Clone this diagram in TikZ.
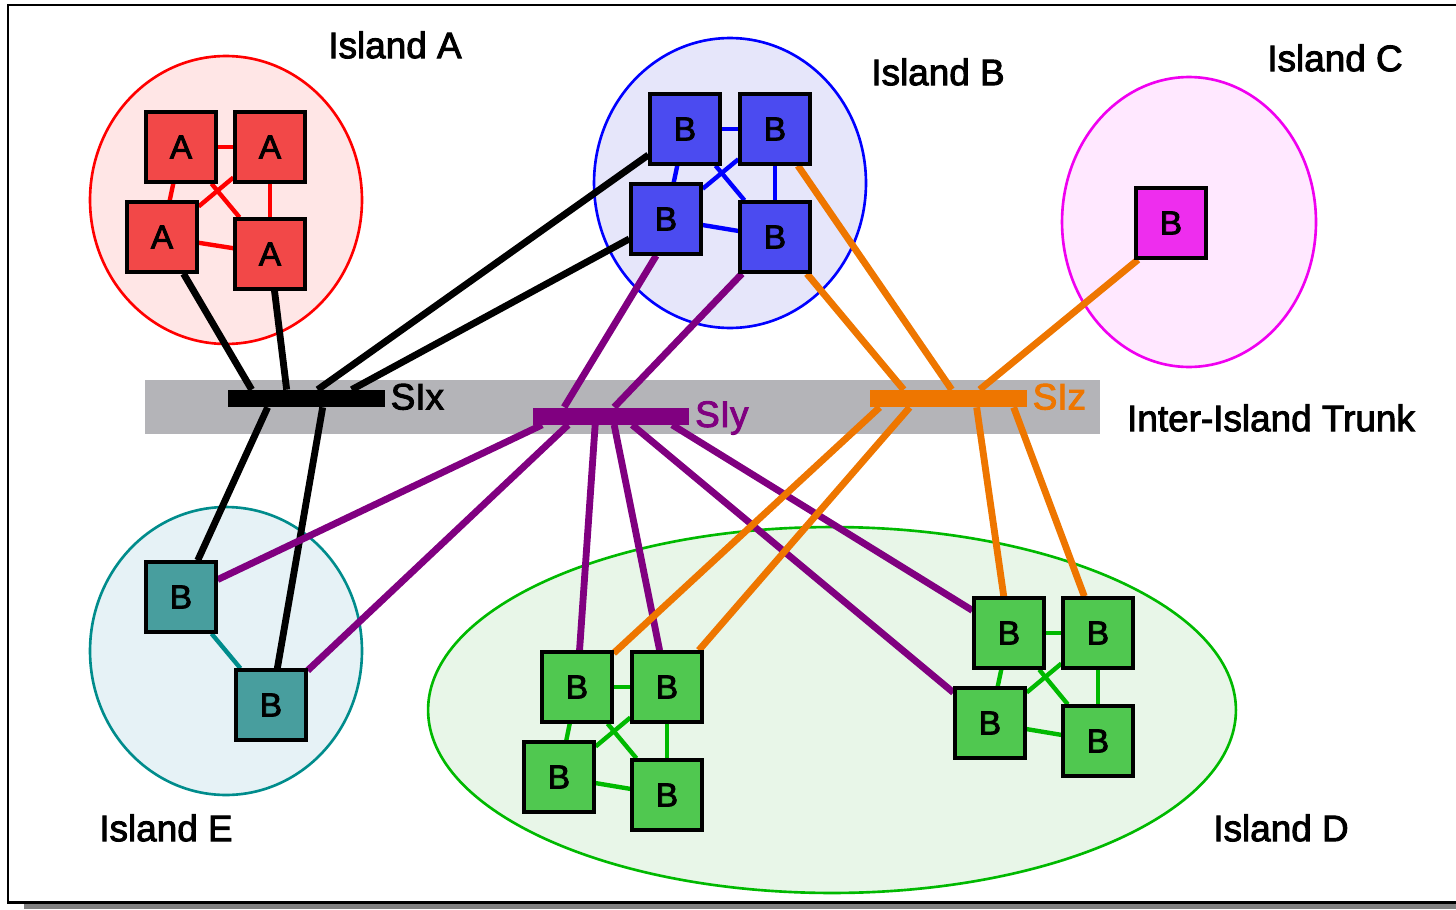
\documentclass[tikz,border=0pt]{standalone}
\usepackage{fontspec}
\setmainfont{Liberation Sans}[FakeBold=2.5]
\usetikzlibrary{calc,backgrounds}

\definecolor{redbox}{RGB}{242,72,72}
\definecolor{bluebox}{RGB}{75,75,240}
\definecolor{magbox}{RGB}{238,45,238}
\definecolor{tealbox}{RGB}{72,158,158}
\definecolor{greenbox}{RGB}{80,200,80}
\definecolor{islA}{RGB}{255,230,230}
\definecolor{islB}{RGB}{230,230,250}
\definecolor{islC}{RGB}{255,232,255}
\definecolor{islD}{RGB}{232,246,232}
\definecolor{islE}{RGB}{230,242,246}
\definecolor{magline}{RGB}{240,0,240}
\definecolor{tealline}{RGB}{0,140,140}
\definecolor{greenline}{RGB}{0,185,0}
\definecolor{purp}{RGB}{128,0,128}
\definecolor{orng}{RGB}{238,118,0}
\definecolor{trunkgray}{RGB}{180,180,184}

\begin{document}
\begin{tikzpicture}[x=0.02cm, y=-0.02cm,
  sw/.style={draw, line width=1.9pt, minimum size=1.4cm, inner sep=0pt, font=\fontsize{19}{22}\selectfont},
  bar/.style={minimum width=3.14cm, minimum height=0.34cm, inner sep=0pt},
  lbl/.style={font=\fontsize{21}{25}\selectfont, inner sep=0pt},
  trunk/.style={line width=3.9pt},
  link/.style={line width=2.5pt}]
  \useasboundingbox (0,0) rectangle (1456,909);
  % Frame, trunk and islands
  \begin{scope}[on background layer]
    \fill[gray] (24,904) rectangle (1460,909);
    \draw[line width=1.7pt] (8,5) rectangle (1470,902);
    \fill[trunkgray] (145,380) rectangle (1100,434);
    \draw[red, fill=islA, line width=1.5pt] (226,200) ellipse [x radius=2.72cm, y radius=2.88cm];
    \draw[blue, fill=islB, line width=1.5pt] (730,183) ellipse [x radius=2.72cm, y radius=2.9cm];
    \draw[magline, fill=islC, line width=1.5pt] (1189,222) ellipse [x radius=2.54cm, y radius=2.9cm];
    \draw[tealline, fill=islE, line width=1.5pt] (226,651) ellipse [x radius=2.72cm, y radius=2.88cm];
    \draw[greenline, fill=islD, line width=1.5pt] (832,710) ellipse [x radius=8.08cm, y radius=3.66cm];
  \end{scope}
  % Labels
  \node[lbl] (labA) at (395,45) {Island A};
  \node[lbl] (labB) at (938,72) {Island B};
  \node[lbl] (labC) at (1335,58) {Island C};
  \node[lbl] (labE) at (166,828) {Island E};
  \node[lbl] (labD) at (1281,828) {Island D};
  \node[lbl] (labT) at (1271,418) {Inter-Island Trunk};
  % Switches
  \node[bar, fill=black] (SIx) at (306.5,398.5) {};
  \node[bar, fill=purp] (SIy) at (611,416) {};
  \node[bar, fill=orng] (SIz) at (948.5,398.5) {};
  \node[lbl, anchor=base west] (SIxname) at ($(SIx.east)+(5,11)$) {SIx};
  \node[lbl, anchor=base west, text=purp] (SIyname) at ($(SIy.east)+(5,11)$) {SIy};
  \node[lbl, anchor=base west, text=orng] (SIzname) at ($(SIz.east)+(5,11)$) {SIz};
  % Nodes
  \node[sw, fill=redbox] (A1) at (181,147) {A};
  \node[sw, fill=redbox] (A2) at (270,147) {A};
  \node[sw, fill=redbox] (A3) at (162,237) {A};
  \node[sw, fill=redbox] (A4) at (270,254) {A};
  \node[sw, fill=bluebox] (B1) at (685,129) {B};
  \node[sw, fill=bluebox] (B2) at (775,129) {B};
  \node[sw, fill=bluebox] (B3) at (666,219) {B};
  \node[sw, fill=bluebox] (B4) at (775,237) {B};
  \node[sw, fill=magbox] (C1) at (1171,223) {B};
  \node[sw, fill=tealbox] (E1) at (181,597) {B};
  \node[sw, fill=tealbox] (E2) at (271,705) {B};
  \node[sw, fill=greenbox] (D1) at (577,687) {B};
  \node[sw, fill=greenbox] (D2) at (667,687) {B};
  \node[sw, fill=greenbox] (D3) at (559,777) {B};
  \node[sw, fill=greenbox] (D4) at (667,795) {B};
  \node[sw, fill=greenbox] (D5) at (1009,633) {B};
  \node[sw, fill=greenbox] (D6) at (1098,633) {B};
  \node[sw, fill=greenbox] (D7) at (990,723) {B};
  \node[sw, fill=greenbox] (D8) at (1098,741) {B};
  % Edges
  \begin{scope}[on background layer]
    \foreach \p/\q in {A1/A2,A1/A3,A2/A4,A3/A4,A1/A4,A2/A3}
      \draw[link, red] (\p) -- (\q);
    \foreach \p/\q in {B1/B2,B1/B3,B2/B4,B3/B4,B1/B4,B2/B3}
      \draw[link, blue] (\p) -- (\q);
    \foreach \p/\q in {D1/D2,D1/D3,D2/D4,D3/D4,D1/D4,D2/D3,D5/D6,D5/D7,D6/D8,D7/D8,D5/D8,D6/D7}
      \draw[link, greenline] (\p) -- (\q);
    \draw[link, tealline] (E1) -- (E2);
    % SIx
    \draw[trunk] (A3) -- ($(SIx.north west)+(24,0)$);
    \draw[trunk] (A4) -- ($(SIx.north west)+(59,0)$);
    \draw[trunk] (B1) -- ($(SIx.north west)+(90,0)$);
    \draw[trunk] (B3) -- ($(SIx.north west)+(124,0)$);
    \draw[trunk] (E1) -- ($(SIx.south west)+(40,0)$);
    \draw[trunk] (E2) -- ($(SIx.south west)+(95,0)$);
    % SIy
    \draw[trunk, purp] (B3.255) -- ($(SIy.north west)+(32,0)$);
    \draw[trunk, purp] (B4.228) -- ($(SIy.north west)+(82,0)$);
    \draw[trunk, purp] (E1) -- ($(SIy.south west)+(10,0)$);
    \draw[trunk, purp] (E2) -- ($(SIy.south west)+(36,0)$);
    \draw[trunk, purp] (D1) -- ($(SIy.south west)+(63,0)$);
    \draw[trunk, purp] (D2) -- ($(SIy.south west)+(82,0)$);
    \draw[trunk, purp] (D7) -- ($(SIy.south west)+(100,0)$);
    \draw[trunk, purp] (D5) -- ($(SIy.south west)+(140,0)$);
    % SIz
    \draw[trunk, orng] (B2.302) -- ($(SIz.north west)+(82,0)$);
    \draw[trunk, orng] (B4.311) -- ($(SIz.north west)+(34,0)$);
    \draw[trunk, orng] (C1.228) -- ($(SIz.north west)+(110,0)$);
    \draw[trunk, orng] (D1) -- ($(SIz.south west)+(10,0)$);
    \draw[trunk, orng] (D2) -- ($(SIz.south west)+(40,0)$);
    \draw[trunk, orng] (D5) -- ($(SIz.south west)+(107,0)$);
    \draw[trunk, orng] (D6) -- ($(SIz.south west)+(144,0)$);
  \end{scope}
\end{tikzpicture}
\end{document}
